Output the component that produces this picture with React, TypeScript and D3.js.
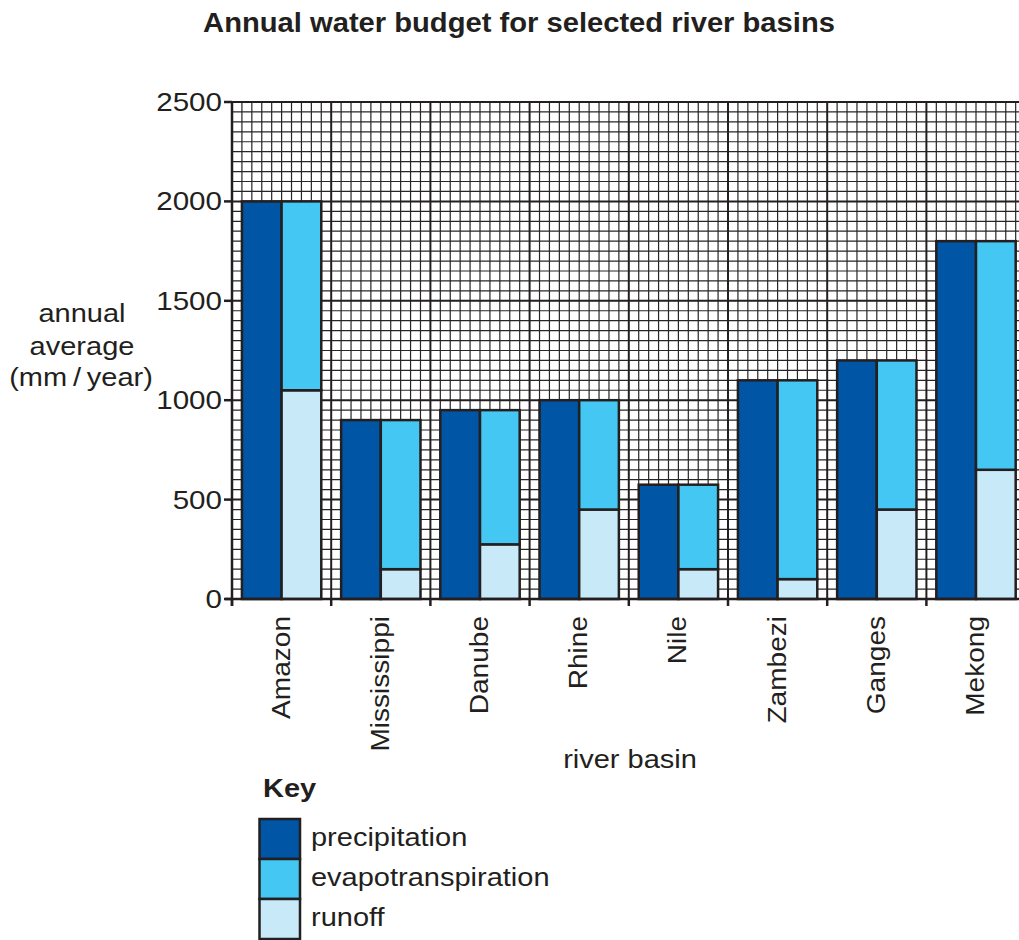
import React from "react";
import * as d3 from "d3";

const basins = ["Amazon", "Mississippi", "Danube", "Rhine", "Nile", "Zambezi", "Ganges", "Mekong"];
const precipitation = [2000, 900, 950, 1000, 575, 1100, 1200, 1800];
const runoff = [1050, 150, 275, 450, 150, 100, 450, 650];
const evapotranspiration = [950, 750, 675, 550, 425, 1000, 750, 1150];
const yTicks = [0, 500, 1000, 1500, 2000, 2500];
const keyLabels = ["precipitation", "evapotranspiration", "runoff"];

const COLORS = { precipitation: "#0055A5", evapotranspiration: "#44C8F3", runoff: "#C8E9F8" };
const INK = "#231F20";
const FONT = "'Liberation Sans', Arial, Helvetica, sans-serif";

const T = ({ x, y, children, size = 25, sx = 1.16, rot = 0, anchor = "start", weight = "normal", baseline = "auto" }: any) => (
  <text
    transform={`translate(${x},${y}) rotate(${rot}) scale(${sx},1)`}
    fontFamily={FONT}
    fontSize={size}
    fontWeight={weight}
    textAnchor={anchor}
    dominantBaseline={baseline}
    fill={INK}
  >
    {children}
  </text>
);

export default function App() {
  const left = 232;
  const step = 99.2;
  const right = left + step * basins.length;
  const top = 102;
  const bottom = 599;

  const x = d3.scaleBand<string>().domain(basins).range([left, right]).padding(0);
  const y = d3.scaleLinear().domain([0, 2500]).range([bottom, top]);
  const bw = x.bandwidth();

  const minorY = d3.range(0, 2501, 50).filter((v) => v % 500 !== 0);
  const majorY = d3.range(0, 2501, 500);
  const minorX: number[] = [];
  basins.forEach((b) => {
    for (let i = 1; i < 10; i++) minorX.push((x(b) as number) + (bw * i) / 10);
  });
  const majorX = basins.map((b) => x(b) as number).concat([right]);

  return (
    <svg width={1019} height={940} style={{ position: "absolute", left: 0, top: 0, background: "#fff" }}>
      <T x={519} y={32} size={27} sx={1.08} anchor="middle" weight="bold">
        Annual water budget for selected river basins
      </T>

      {/* grid */}
      <g stroke="#262626" strokeWidth={1.2}>
        {minorY.map((v) => (
          <line key={"my" + v} x1={left} x2={right} y1={y(v)} y2={y(v)} />
        ))}
        {minorX.map((v, i) => (
          <line key={"mx" + i} x1={v} x2={v} y1={top} y2={bottom} />
        ))}
      </g>
      <g stroke={INK} strokeWidth={2}>
        {majorY.map((v) => (
          <line key={"My" + v} x1={left} x2={right} y1={y(v)} y2={y(v)} />
        ))}
        {majorX.map((v, i) => (
          <line key={"Mx" + i} x1={v} x2={v} y1={top} y2={bottom} />
        ))}
      </g>

      {/* bars */}
      <g stroke={INK} strokeWidth={2.5}>
        {basins.map((b, i) => {
          const x0 = (x(b) as number) + bw * 0.1;
          const w = bw * 0.4;
          return (
            <g key={b}>
              <rect x={x0} y={y(precipitation[i])} width={w} height={y(0) - y(precipitation[i])} fill={COLORS.precipitation} />
              <rect x={x0 + w} y={y(runoff[i])} width={w} height={y(0) - y(runoff[i])} fill={COLORS.runoff} />
              <rect
                x={x0 + w}
                y={y(runoff[i] + evapotranspiration[i])}
                width={w}
                height={y(runoff[i]) - y(runoff[i] + evapotranspiration[i])}
                fill={COLORS.evapotranspiration}
              />
            </g>
          );
        })}
      </g>

      {/* axes */}
      <g stroke={INK} strokeWidth={2.5}>
        <line x1={left} x2={left} y1={top - 1} y2={bottom + 7} />
        <line x1={left - 7} x2={right} y1={bottom} y2={bottom} />
        {yTicks.map((v) => (
          <line key={"yt" + v} x1={left - 8} x2={left} y1={y(v)} y2={y(v)} />
        ))}
        {majorX.map((v, i) => (
          <line key={"xt" + i} x1={v} x2={v} y1={bottom} y2={bottom + 7} />
        ))}
      </g>
      {yTicks.map((v) => (
        <T key={"yl" + v} x={222} y={y(v) + 9} size={25.5} anchor="end">
          {String(v)}
        </T>
      ))}
      {basins.map((b) => (
        <T key={"xl" + b} x={(x(b) as number) + bw / 2 + 8} y={616} size={25.5} rot={-90} sx={1.1} anchor="end">
          {b}
        </T>
      ))}

      <T x={82} y={322} anchor="middle">annual</T>
      <T x={82} y={355} anchor="middle">average</T>
      <T x={81} y={386} anchor="middle">(mm{"\u2009"}/{"\u2009"}year)</T>
      <T x={630} y={768} anchor="middle">river basin</T>

      {/* key */}
      <T x={263} y={797} weight="bold">Key</T>
      {keyLabels.map((k, i) => (
        <g key={k}>
          <rect
            x={259.5}
            y={819 + i * 40}
            width={40.5}
            height={40}
            fill={(COLORS as any)[k]}
            stroke={INK}
            strokeWidth={2.5}
          />
          <T x={311} y={846 + i * 40}>{k}</T>
        </g>
      ))}
    </svg>
  );
}
